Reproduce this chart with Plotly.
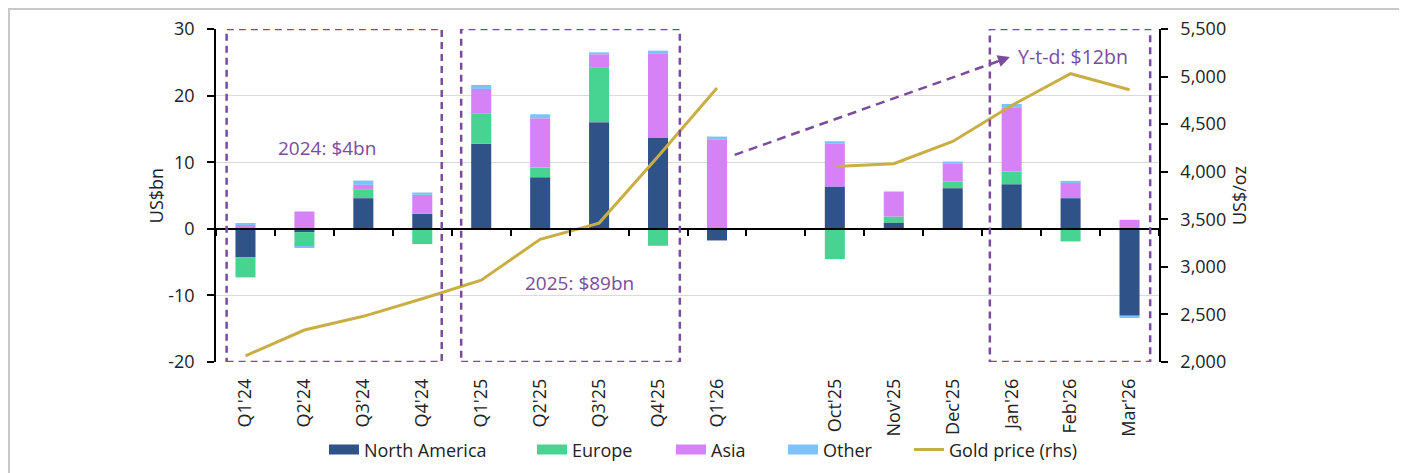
import plotly.graph_objects as go

categories = ["Q1'24", "Q2'24", "Q3'24", "Q4'24", "Q1'25", "Q2'25", "Q3'25", "Q4'25", "Q1'26",
              " ", "Oct'25", "Nov'25", "Dec'25", "Jan'26", "Feb'26", "Mar'26"]

north_america = [-4.25, -0.5, 4.6, 2.25, 12.75, 7.75, 16.0, 13.7, -1.75,
                 None, 6.35, 0.95, 6.1, 6.7, 4.6, -13.05]
europe = [-3.05, -2.15, 1.25, -2.3, 4.6, 1.45, 8.25, -2.55, 0.0,
          None, -4.55, 0.9, 1.0, 1.9, -1.9, 0.0]
asia = [0.6, 2.6, 0.75, 2.85, 3.65, 7.4, 1.95, 12.65, 13.35,
        None, 6.4, 3.75, 2.65, 9.65, 2.4, 1.35]
other = [0.25, -0.15, 0.65, 0.35, 0.6, 0.6, 0.3, 0.4, 0.5,
         None, 0.4, 0.0, 0.35, 0.5, 0.2, -0.35]
gold_price = [2065, 2336, 2480, 2665, 2860, 3290, 3460, 4160, 4880,
              None, 4056, 4084, 4318, 4696, 5030, 4861]

left_ticks = [-20, -10, 0, 10, 20, 30]
left_tick_text = ["-20", "-10", "0", "10", "20", "30"]

C_NA = "#2F5289"
C_EU = "#47D391"
C_AS = "#D681F6"
C_OT = "#7DC3FA"
C_GOLD = "#C9AE45"
C_PURPLE = "#7B4B9C"
FONT = "Open Sans"
TXT = "#222222"

fig = go.Figure()
series = [("North America", north_america, C_NA), ("Europe", europe, C_EU),
          ("Asia", asia, C_AS), ("Other", other, C_OT)]
for name, vals, col in series:
    fig.add_trace(go.Bar(x=categories, y=vals, name=name, showlegend=False,
                         marker=dict(color=col, line=dict(width=0))))

fig.add_trace(go.Scatter(x=categories, y=gold_price, name="Gold price (rhs)", mode="lines",
                         line=dict(color=C_GOLD, width=3), yaxis="y2", connectgaps=False,
                         showlegend=False))

# legend entries, each in its own legend box so the spacing can follow the original
legend_x = [0.1145, 0.3351, 0.4825, 0.6013, 0.7349]
legend_ids = ["legend", "legend2", "legend3", "legend4", "legend5"]
for i, (name, vals, col) in enumerate(series):
    fig.add_trace(go.Scatter(x=[None], y=[None], name=name, mode="lines",
                             line=dict(color=col, width=14), legend=legend_ids[i]))
fig.add_trace(go.Scatter(x=[None], y=[None], name="Gold price (rhs)", mode="lines",
                         line=dict(color=C_GOLD, width=3), legend=legend_ids[4]))

# dummy trace to host the zero-line axis with boundary ticks
fig.add_trace(go.Scatter(x=categories, y=[None] * len(categories), xaxis="x2", yaxis="y",
                         showlegend=False, hoverinfo="skip", mode="lines"))

shapes = []
for x0, x1 in [(-0.32, 3.33), (3.66, 7.37), (12.63, 15.35)]:
    shapes.append(dict(type="rect", xref="x", yref="y", x0=x0, x1=x1, y0=-20, y1=30,
                       line=dict(color=C_PURPLE, width=2.5, dash="7px,5px"), layer="above"))
# dashed arrow shaft
shapes.append(dict(type="line", xref="x", yref="y", x0=8.3, y0=11.1, x1=12.85, y1=25.4,
                   line=dict(color=C_PURPLE, width=2.5, dash="9px,6px"), layer="above"))
# outer frame
shapes.append(dict(type="rect", xref="paper", yref="paper", x0=-0.2195, x1=1.2577, y0=-0.5, y1=1.06,
                   line=dict(color="#C8C8C8", width=2), layer="below"))

annotations = [
    dict(x=1.39, y=12.1, xref="x", yref="y", text="2024: $4bn", showarrow=False,
         font=dict(family=FONT, size=19, color=C_PURPLE)),
    dict(x=5.66, y=-8.1, xref="x", yref="y", text="2025: $89bn", showarrow=False,
         font=dict(family=FONT, size=19, color=C_PURPLE)),
    dict(x=13.08, y=25.8, xref="x", yref="y", text="Y-t-d: $12bn", showarrow=False, xanchor="left",
         font=dict(family=FONT, size=19.5, color=C_PURPLE)),
    dict(x=12.97, y=25.8, xref="x", yref="y", ax=12.7, ay=24.95, axref="x", ayref="y", text="",
         showarrow=True, arrowhead=2, arrowsize=1.2, arrowwidth=2, arrowcolor=C_PURPLE),
]

legend_common = dict(orientation="h", xanchor="left", y=-0.264, yanchor="middle",
                     font=dict(family=FONT, size=18, color=TXT), bgcolor="rgba(0,0,0,0)",
                     itemwidth=30)

fig.update_layout(
    width=1399, height=465,
    margin=dict(l=208, r=248, t=21, b=111, autoexpand=False),
    paper_bgcolor="white", plot_bgcolor="white",
    barmode="relative", bargap=0.66,
    font=dict(family=FONT, size=17, color=TXT),
    showlegend=True,
    legend=dict(x=legend_x[0], **legend_common),
    legend2=dict(x=legend_x[1], **legend_common),
    legend3=dict(x=legend_x[2], **legend_common),
    legend4=dict(x=legend_x[3], **legend_common),
    legend5=dict(x=legend_x[4], **legend_common),
    xaxis=dict(type="category", categoryorder="array", categoryarray=categories,
               tickangle=-90, showline=False, ticks="", showgrid=False, zeroline=False,
               automargin=False, ticklabelstandoff=12,
               tickfont=dict(family=FONT, size=18, color=TXT)),
    xaxis2=dict(type="category", categoryorder="array", categoryarray=categories,
                matches="x", overlaying="x", anchor="free", position=0.4,
                showline=True, linecolor="black", linewidth=1.5, ticks="outside", ticklen=6,
                tickcolor="black", tickwidth=1.5, tickson="boundaries", showticklabels=False,
                showgrid=False, zeroline=False, automargin=False),
    yaxis=dict(range=[-20, 30], tickvals=left_ticks, ticktext=left_tick_text,
               showline=True, linecolor="black", linewidth=1.5,
               ticks="outside", ticklen=7, tickcolor="black", tickwidth=1.5,
               gridcolor="#DADADA", gridwidth=1, zeroline=False, automargin=False,
               ticklabelstandoff=9,
               title=dict(text="US$bn", standoff=0, font=dict(family=FONT, size=18)),
               tickfont=dict(family=FONT, size=18, color=TXT)),
    yaxis2=dict(range=[2000, 5500], dtick=500, tickformat=",", overlaying="y", side="right",
                showline=True, linecolor="black", linewidth=1.5, ticks="outside", ticklen=7,
                tickcolor="black", tickwidth=1.5, showgrid=False, zeroline=False, automargin=False,
                ticklabelstandoff=9,
                title=dict(text="US$/oz", standoff=8, font=dict(family=FONT, size=18)),
                tickfont=dict(family=FONT, size=18, color=TXT)),
    shapes=shapes,
    annotations=annotations,
)

fig.write_html("out.html")
